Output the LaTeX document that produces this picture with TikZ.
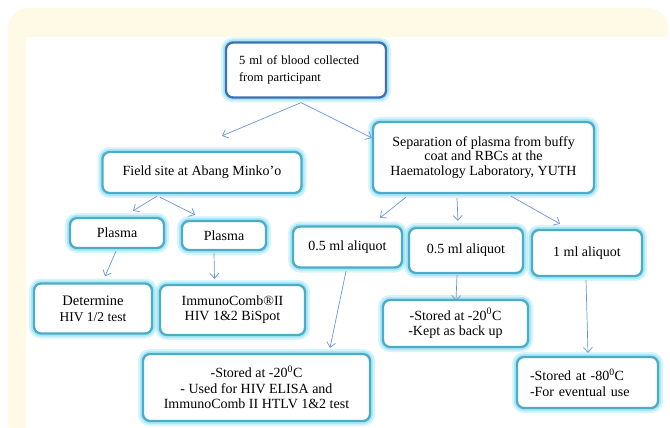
\documentclass[tikz,border=0pt]{standalone}
\usepackage{fontspec}
\setmainfont{Liberation Serif}
\usetikzlibrary{arrows.meta,calc}
\definecolor{creambg}{HTML}{FFFAE6}
\definecolor{boxteal}{HTML}{4BACC6}
\definecolor{glowc}{HTML}{9FE4F6}
\definecolor{topblue}{HTML}{3F6FB5}
\definecolor{arrowblue}{HTML}{6C97D6}
\tikzset{
  box/.style={draw=boxteal, line width=2.3pt, rounded corners=7pt, fill=white,
    align=center, inner sep=2pt,
    preaction={draw=glowc, line width=10pt, opacity=0.4},
    preaction={draw=glowc, line width=6pt, opacity=0.8},
    font=\fontsize{14}{14.5}\selectfont},
  timesbox/.style={box, font=\fontsize{14}{15.5}\selectfont},
  topbox/.style={box, draw=topblue, font=\fontsize{12.5}{17}\selectfont},
  arr/.style={draw=arrowblue, line width=0.7pt, -{Straight Barb[length=5pt,width=9pt]}},
}
\begin{document}
\begin{tikzpicture}[x=1pt,y=-1pt]
\useasboundingbox (0,0) rectangle (670,428);
\fill[creambg, rounded corners=20pt] (8,8) rectangle (668,445);
\fill[white] (26,37) rectangle (675,435);

\node[topbox, minimum height=55pt, text width=134pt, inner xsep=13pt, align=left] (top) at (306,70)
  {5 ml of blood collected\\from participant};
\node[box, minimum width=221pt, minimum height=71pt] (sep) at (483.5,157.5)
  {Separation of plasma from buffy\\coat and RBCs at the\\Haematology Laboratory, YUTH};
\node[box, minimum width=199pt, minimum height=41pt] (field) at (202,172.5)
  {Field site at Abang Minko’o};
\node[box, minimum width=94pt, minimum height=30pt] (p1) at (117,233) {Plasma};
\node[box, minimum width=84pt, minimum height=29pt] (p2) at (224,235.5) {Plasma};
\node[box, minimum width=109pt, minimum height=41pt] (a1) at (347.5,247) {0.5 ml aliquot};
\node[box, minimum width=114pt, minimum height=45pt] (a2) at (466,250.5) {0.5 ml aliquot};
\node[box, minimum width=110pt, minimum height=46pt] (a3) at (587,253) {1 ml aliquot};
\node[box, minimum width=118pt, minimum height=50pt, font=\fontsize{14.5}{16}\selectfont] (det) at (93,308.5)
  {Determine\\{\fontsize{13.5}{15}\selectfont HIV 1/2 test}};
\node[box, minimum width=145pt, minimum height=50pt, font=\fontsize{14}{15}\selectfont] (imm) at (232.5,310)
  {ImmunoComb®II\\HIV 1\&2 BiSpot};
\node[timesbox, minimum width=227pt, minimum height=67pt] (s1) at (256.5,387.5)
  {-Stored at -20\textsuperscript{0}C\\- Used for HIV ELISA and\\ImmunoComb II HTLV 1\&2 test};
\node[timesbox, minimum width=145pt, minimum height=47pt] (s2) at (455.5,323.5)
  {-Stored at -20\textsuperscript{0}C\\-Kept as back up};
\node[timesbox, minimum height=51pt, text width=115pt, inner xsep=13pt, align=left] (s3) at (587.5,382.5)
  {-Stored at -80\textsuperscript{0}C\\-For eventual use};

\draw[arr] ($(top.south)+(-5,4)$) -- ($(field.north)+(20,-15)$);
\draw[arr] ($(top.south)+(-5,4)$) -- ($(sep.north west)+(0,17)$);
\draw[arr] ($(field.south)+(-45,2)$) -- ($(p1.north)+(16,-6)$);
\draw[arr] ($(field.south)+(-42,3)$) -- ($(p2.north)+(-29,-5)$);
\draw[arr] ($(p1.south)+(-1,2)$) -- ($(det.north)+(12,-6)$);
\draw[arr] ($(p2.south)+(-10,2)$) -- ($(imm.north)+(-18,-5)$);
\draw[arr] ($(sep.south)+(-77.5,3)$) -- ($(a1.north)+(32.5,-7.5)$);
\draw[arr] ($(sep.south)+(-26.5,4)$) -- ($(a2.north)+(-8,-6)$);
\draw[arr] ($(sep.south)+(27.5,2)$) -- ($(a3.north)+(-27,-5)$);
\draw[arr] ($(a1.south)+(-1.5,2.5)$) -- ($(s1.north)+(73.5,-5)$);
\draw[arr] ($(a2.south)+(-9,1)$) -- ($(s2.north)+(0.5,2)$);
\draw[arr] ($(a3.south)+(-1,3)$) -- ($(s3.north)+(0.5,-3)$);
\end{tikzpicture}
\end{document}
